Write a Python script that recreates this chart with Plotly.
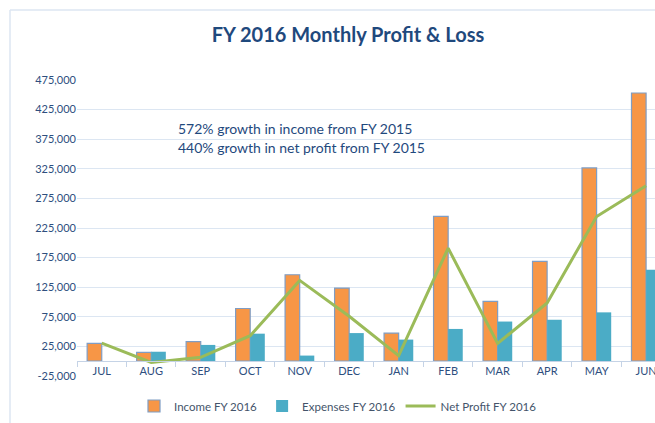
import plotly.graph_objects as go

months = ["JUL", "AUG", "SEP", "OCT", "NOV", "DEC", "JAN", "FEB", "MAR", "APR", "MAY", "JUN"]
income = [30000, 15000, 33000, 89000, 146000, 123500, 47500, 244500, 101000, 168500, 326500, 453000]
expenses = [0, 16000, 27500, 46500, 9500, 47500, 36500, 54500, 67000, 70000, 82500, 154500]
net_profit = [30500, -2000, 6500, 43000, 136500, 76000, 9500, 191000, 30000, 98500, 244500, 296500]

y_tickvals = [-25000, 25000, 75000, 125000, 175000, 225000, 275000, 325000, 375000, 425000, 475000]
y_ticktext = ["-25,000", "25,000", "75,000", "125,000", "175,000", "225,000", "275,000",
              "325,000", "375,000", "425,000", "475,000"]

notes = ["572% growth in income from FY 2015", "440% growth in net profit from FY 2015"]

FONT = "Lato, 'Open Sans', sans-serif"
TXT = "#2E4E7E"

W, H = 655, 423
L, R, T, B = 77, 0, 80, 47
PW, PH = W - L - R, H - T - B


def px_x(px):
    return (px - L) / PW


def px_y(py):
    return 1 - (py - T) / PH


fig = go.Figure()
fig.add_trace(go.Bar(
    x=months, y=income, name="Income FY 2016",
    marker=dict(color="#F79646", line=dict(color="#7F9DC4", width=1.2)),
))
fig.add_trace(go.Bar(
    x=months, y=expenses, name="Expenses FY 2016",
    marker=dict(color="#4BACC6", line=dict(width=0)),
))
fig.add_trace(go.Scatter(
    x=months, y=net_profit, name="Net Profit FY 2016", mode="lines",
    line=dict(color="#9BBB59", width=3),
))

fig.update_layout(
    width=W, height=H,
    margin=dict(l=L, r=R, t=T, b=B, autoexpand=False),
    paper_bgcolor="white", plot_bgcolor="white",
    barmode="group", bargap=0.41, bargroupgap=0,
    font=dict(family=FONT, color=TXT, size=11),
    title=dict(text="<b>FY 2016 Monthly Profit &amp; Loss</b>", xref="container", x=348 / W,
               xanchor="center", y=1 - 35 / H, yanchor="middle",
               font=dict(family=FONT, size=20, color="#1F497D")),
    legend=dict(orientation="h", x=px_x(134), y=px_y(406), xanchor="left", yanchor="middle",
                font=dict(family=FONT, size=11.5, color="#44546A"), traceorder="normal",
                bgcolor="rgba(0,0,0,0)"),
    xaxis=dict(type="category", range=[-0.5, 11.18], anchor="free", position=0.05,
               automargin=False,
               showline=True, linecolor="#C5D3E6", linewidth=1,
               ticks="outside", tickson="boundaries", ticklen=5, tickcolor="#C5D3E6",
               showgrid=False, tickfont=dict(family=FONT, size=11, color=TXT)),
    yaxis=dict(range=[-25000, 475000], domain=[0, 1], tickvals=y_tickvals, ticktext=y_ticktext,
               automargin=False,
               showgrid=True, gridcolor="#DCE6F2", gridwidth=1, zeroline=False, showline=False,
               ticks="", tickfont=dict(family=FONT, size=11, color=TXT)),
    showlegend=True,
)

for i, t in enumerate(notes):
    fig.add_annotation(text=t, xref="paper", yref="paper", x=px_x(176), y=px_y(128 + 19 * i),
                       xanchor="left", yanchor="middle", showarrow=False,
                       font=dict(family=FONT, size=14, color="#1F497D"))

# chart border (top and left edges)
fig.add_shape(type="line", xref="paper", yref="paper", x0=px_x(10), x1=px_x(660),
              y0=px_y(10), y1=px_y(10), line=dict(color="#DCE6F2", width=1.5))
fig.add_shape(type="line", xref="paper", yref="paper", x0=px_x(10), x1=px_x(10),
              y0=px_y(10), y1=px_y(430), line=dict(color="#DCE6F2", width=1.5))

fig.write_html("out.html", config={"displayModeBar": False},
               post_script="document.body.style.margin='0';")
